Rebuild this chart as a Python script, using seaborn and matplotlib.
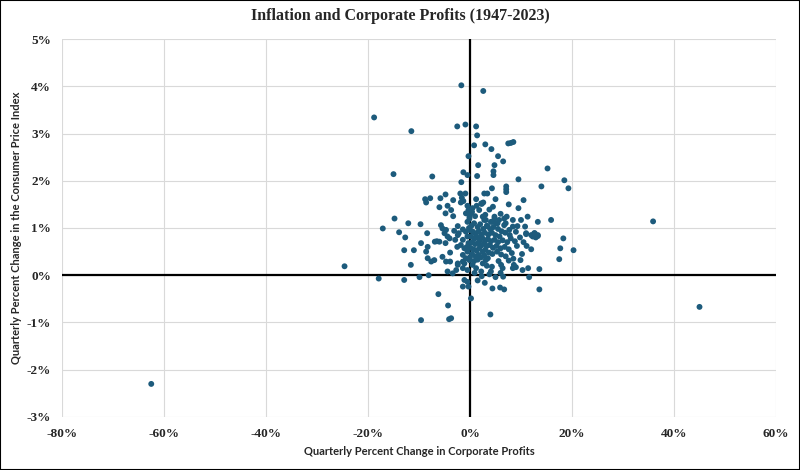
import pandas as pd
import matplotlib.pyplot as plt
import seaborn as sns
from matplotlib.ticker import FuncFormatter, MultipleLocator

# quarterly % change in corporate profits (x) and CPI (y)
profits = [
    -62.5, 45.0, 35.9, -24.6, -18.8, -11.5, -1.7, 2.6,
    -2.5, -0.9, 1.2, 1.4, 0.8, 3.0, 4.2, 7.5, 8.0, 8.5,
    -0.3, 5.5, 6.5, 1.6, 4.8, 4.6, 4.6, 1.4, 15.2, 9.5, 18.5, 19.3, 14.0,
    -15.0, -7.4, -1.3, -0.5, -1.7,
    -8.8, -7.8, -8.6, -5.8, -4.8, -3.3, -1.9, -0.9, -1.6, -1.3,
    7.1, 7.1, 7.1, 4.3, 2.8, 3.4, 5.0, 10.5, 1.2, 2.2, 2.6, 7.6,
    -1.8, -0.5, -6.0, -4.4, -3.7, -4.8, -3.3, -0.3, 0.2, 0.5, 1.3, 2.3, 3.8, 9.5,
    -0.1, -0.5, 2.5, 3.1, 4.8, 5.1, 4.4, 7.2, 8.4, 10.0, 11.3, 13.3, 15.9,
    -14.8, -12.1, -9.7, -17.1, -13.9, -12.7, -8.4,
    -5.7, -5.4, -4.7, -5.0, -4.0, -2.4, -1.4, -0.8, -2.4,
    -9.6, -8.3, -6.5, -6.0, -8.6, -12.9, -11.0, -11.6,
    -17.9, -12.9, -9.9, -8.1,
    -8.3, -7.6, -7.0, -5.4, -4.7, -3.9, -4.4, -3.4, -2.4, -1.4, -0.5,
    -1.1, -0.5, -1.4, -0.3, 1.5, 2.9, 5.0, 6.5, 4.4, 5.9, 6.7, 13.6, 11.6,
    13.6, 11.4, 10.3, 9.0, 17.5, 17.7, 18.3, 20.3,
    -6.2, -4.3, -4.1, -3.7, -9.6, 0.2, 4.0,
    12.7, 12.0, 12.3, 13.3, 11.0, 12.0, 11.1, 9.9,
    -4.4, -4.8, -6.9, -3.9, -2.9, -2.5, -3.1,
    -2.2, -0.5, -1.4, -1.8, -1.1, -0.5, -1.4, -0.8, -0.1, -1.1, -2.4, -2.7, -1.4,
    -0.8, -0.1, 0.4, 2.8, 4.8, 5.4, 5.7, 4.1, 3.5,
    6.7, 6.7, 7.7, 8.4, 9.3, 10.8, 11.0, 12.6, 13.3, 12.9,
    8.4, 8.6, 7.6, 6.1, 6.4, 4.3, 3.1, 2.5, 2.2, 4.1,
    0.3, 0.8, 1.5, 2.0, 2.6, 3.3, 4.0, 4.6, 5.5, 6.2, 6.9,
    0.1, 0.6, 1.1, 1.7, 2.2, 2.9, 3.6, 4.3, 5.0, 5.8,
    0.2, 0.9, 1.4, 1.9, 2.4, 3.0, 3.5, 4.1, 4.8, 5.5, 6.4, 7.3, 8.0, 8.8,
    0.4, 1.0, 1.6, 2.2, 2.7, 3.3, 3.9, 4.5, 5.2, 6.0, 6.8, 7.6, 9.2,
    0.1, 0.7, 1.3, 1.8, 2.5, 3.0, 3.7, 4.4, 5.3, 6.1, 7.0, 8.2,
    0.4, 1.1, 1.7, 2.2, 2.8, 3.5, 0.0, 0.8, 1.5,
    -0.3, -0.2, -0.6, 0.5, 1.2, 3.3, 5.6, 7.8, 9.0, 9.8, 10.5, 8.5, 10.2,
    7.0, 6.0, 3.0, 1.0, 1.8, 4.5, 0.9, 2.3, 3.8, 6.0,
]
cpi = [
    -2.30, -0.67, 1.14, 0.19, 3.34, 3.05, 4.02, 3.90,
    3.15, 3.19, 3.15, 2.96, 2.75, 2.77, 2.67, 2.79, 2.80, 2.82,
    2.52, 2.52, 2.41, 2.33, 2.33, 2.20, 2.12, 2.10, 2.26, 2.03, 2.01, 1.84, 1.88,
    2.14, 2.09, 2.18, 2.12, 1.97,
    1.61, 1.63, 1.54, 1.63, 1.71, 1.59, 1.73, 1.73, 1.64, 1.57,
    1.88, 1.82, 1.76, 1.84, 1.73, 1.73, 1.61, 1.59, 1.61, 1.52, 1.54, 1.50,
    1.54, 1.47, 1.44, 1.47, 1.38, 1.31, 1.25, 1.38, 1.31, 1.42, 1.47, 1.51, 1.39, 1.42,
    1.20, 1.13, 1.24, 1.17, 1.24, 1.10, 1.13, 1.24, 1.17, 1.17, 1.24, 1.13, 1.17,
    1.20, 1.10, 1.08, 0.99, 0.91, 0.80, 0.89,
    1.06, 0.99, 0.96, 0.89, 0.78, 1.04, 0.97, 0.92, 0.85,
    0.68, 0.60, 0.72, 0.71, 0.50, 0.53, 0.53, 0.22,
    -0.07, -0.10, -0.04, 0.00,
    0.36, 0.29, 0.32, 0.39, 0.29, 0.29, 0.08, 0.04, 0.22, 0.29, 0.11,
    -0.10, -0.14, -0.24, -0.24, -0.11, -0.16, -0.04, -0.03, -0.28, -0.26, -0.30, -0.30, -0.04,
    0.13, 0.15, 0.11, 0.17, 0.34, 0.57, 0.78, 0.53,
    -0.40, -0.64, -0.93, -0.91, -0.95, -0.49, -0.83,
    0.89, 0.85, 0.82, 0.85, 0.89, 0.55, 0.62, 0.32,
    0.82, 0.68, 0.71, 0.48, 0.75, 0.60, 0.94,
    0.89, 0.82, 0.75, 0.64, 0.57, 0.50, 0.43, 0.36, 0.32, 0.25, 0.25, 0.11, 0.15,
    1.31, 1.24, 1.34, 1.17, 1.20, 1.10, 1.17, 1.13, 1.03,
    1.20, 1.06, 0.96, 1.03, 1.04, 1.03, 0.87, 0.89, 0.83, 0.80,
    0.15, 0.22, 0.31, 0.22, 0.15, 0.18, 0.32, 0.25, 0.08, 0.08,
    1.05, 1.10, 1.02, 1.08, 0.98, 1.05, 0.97, 1.02, 0.98, 0.93, 0.90,
    0.95, 0.92, 0.88, 0.93, 0.86, 0.90, 0.86, 0.90, 0.85, 0.82,
    0.82, 0.78, 0.80, 0.74, 0.79, 0.73, 0.77, 0.72, 0.75, 0.70, 0.74, 0.70, 0.78, 0.72,
    0.70, 0.66, 0.68, 0.63, 0.67, 0.62, 0.64, 0.58, 0.62, 0.57, 0.60, 0.55, 0.62,
    0.58, 0.55, 0.52, 0.57, 0.50, 0.54, 0.48, 0.45, 0.50, 0.44, 0.40, 0.47,
    0.45, 0.40, 0.43, 0.38, 0.42, 0.36, 0.38, 0.30, 0.33,
    0.68, 1.00, 0.60, 0.22, 0.15, 0.20, 0.30, 0.85, 0.92, 0.80, 0.70, 0.35, 0.45,
    1.10, 1.30, 1.28, 1.25, 1.38, 1.45, 0.05, -0.02, 0.02, 0.05,
]

df = pd.DataFrame({"profits": profits, "cpi": cpi})

sns.set_style("white")
serif = ["Liberation Serif", "DejaVu Serif"]

fig = plt.figure(figsize=(8, 4.7), dpi=100)
ax = fig.add_axes([0.0775, 0.1128, 0.8925, 0.8042])

sns.scatterplot(data=df, x="profits", y="cpi", ax=ax, color="#1d5b7c",
                s=18, edgecolor="none", zorder=3)

ax.set_xlim(-80, 60)
ax.set_ylim(-3, 5)
ax.xaxis.set_major_locator(MultipleLocator(20))
ax.yaxis.set_major_locator(MultipleLocator(1))
ax.xaxis.set_major_formatter(FuncFormatter(lambda v, p: f"{v:.0f}%"))
ax.yaxis.set_major_formatter(FuncFormatter(lambda v, p: f"{v:.0f}%"))
ax.grid(True, color="#d9d9d9", lw=0.8, zorder=0)
ax.axhline(0, color="black", lw=1.6, zorder=2)
ax.axvline(0, color="black", lw=1.6, zorder=2)
for sp in ax.spines.values():
    sp.set_visible(False)
ax.tick_params(length=0, pad=8)
for lab in ax.get_xticklabels() + ax.get_yticklabels():
    lab.set_fontfamily(serif)
    lab.set_fontweight("bold")
    lab.set_fontsize(9.5)

ax.set_xlabel("Quarterly Percent Change in Corporate Profits",
              family="Lato", fontweight="bold", fontsize=8, labelpad=4)
ax.set_ylabel("Quarterly Percent Change in the Consumer Price Index",
              family="Lato", fontweight="bold", fontsize=8, labelpad=3)

fig.suptitle("Inflation and Corporate Profits (1947-2023)", y=0.982,
             family=serif, fontweight="bold", fontsize=11.5)

# thin black frame around the whole picture
fig.patches.append(plt.Rectangle((0, 0), 1, 1, transform=fig.transFigure,
                                 fill=False, edgecolor="black", lw=1.5))

fig.savefig("out.png", dpi=100)
